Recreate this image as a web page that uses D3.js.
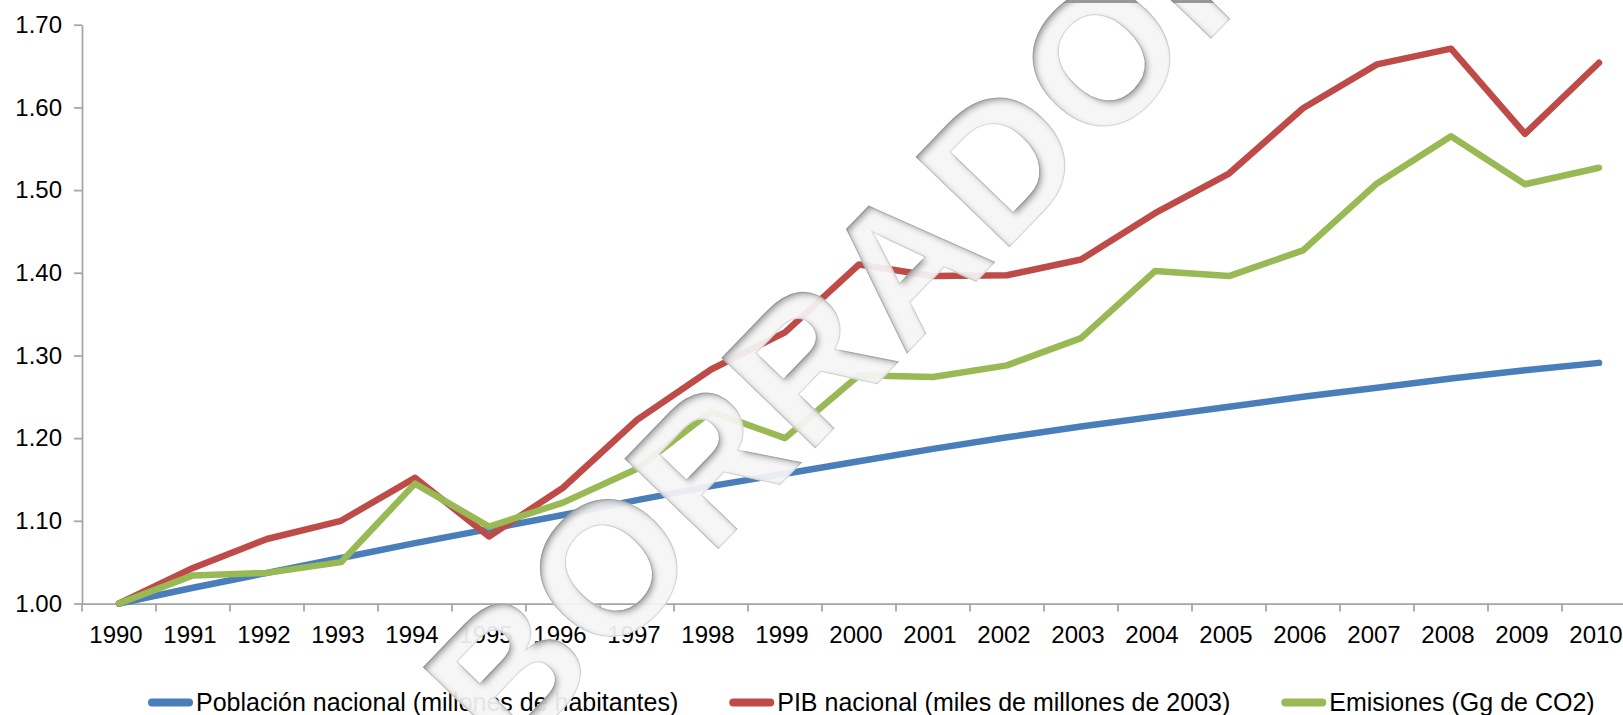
<!DOCTYPE html>
<html>
<head>
<meta charset="utf-8">
<script src="https://cdn.jsdelivr.net/npm/d3@7"></script>
<style>
  body { margin: 0; background: #fff; }
  svg { display: block; font-family: "Liberation Sans", Arial, sans-serif; }
</style>
</head>
<body>
<div id="chart"></div>
<script>
// data
var years = ["1990","1991","1992","1993","1994","1995","1996","1997","1998","1999","2000",
             "2001","2002","2003","2004","2005","2006","2007","2008","2009","2010"];
var poblacion = [1.000,1.019,1.037,1.055,1.073,1.090,1.107,1.125,1.142,1.157,1.172,
                 1.187,1.201,1.214,1.226,1.238,1.250,1.261,1.272,1.282,1.291];
var pib = [1.000,1.043,1.078,1.100,1.152,1.081,1.140,1.222,1.283,1.328,1.410,
           1.396,1.397,1.416,1.472,1.520,1.599,1.652,1.671,1.568,1.654];
var emisiones = [1.000,1.034,1.037,1.050,1.145,1.093,1.122,1.163,1.232,1.200,1.276,
                 1.274,1.288,1.321,1.402,1.396,1.427,1.508,1.565,1.507,1.527];
var yTicks = [1.0, 1.1, 1.2, 1.3, 1.4, 1.5, 1.6, 1.7];
var seriesNames = ["Población nacional (millones de habitantes)",
                   "PIB nacional (miles de millones de 2003)",
                   "Emisiones (Gg de CO2)"];
var seriesColors = ["#4a7ebb", "#be4b48", "#98b954"];

var width = 1623, height = 715;
var axisColor = "#a5a5a5";

var svg = d3.select("#chart").append("svg")
    .attr("width", width)
    .attr("height", height);

svg.append("rect").attr("width", width).attr("height", height).attr("fill", "#fff");

// the plot runs past the right edge of the picture
var x = d3.scaleBand().domain(years).range([82, 82 + years.length * 74]);
var y = d3.scaleLinear().domain([1, 1.7]).range([603.5, 24.7]);

// y axis
var yAxis = svg.append("g")
    .attr("transform", "translate(" + x.range()[0] + ",0)")
    .call(d3.axisLeft(y).tickValues(yTicks).tickFormat(d3.format(".2f"))
          .tickSizeInner(8).tickSizeOuter(0).tickPadding(12));
yAxis.select(".domain").attr("stroke", axisColor).attr("stroke-width", 1.75);
yAxis.selectAll(".tick line").attr("stroke", axisColor).attr("stroke-width", 1.75);
yAxis.selectAll(".tick text").attr("font-size", 24).attr("fill", "#000")
    .attr("font-family", "Liberation Sans, Arial, sans-serif");

// x axis: labels centred in bands, ticks on band edges
var xAxis = svg.append("g")
    .attr("transform", "translate(0," + y(1) + ")")
    .call(d3.axisBottom(x).tickSize(0).tickPadding(0));
xAxis.select(".domain").attr("stroke", axisColor).attr("stroke-width", 1.75);
xAxis.selectAll(".tick text")
    .attr("font-size", 24).attr("fill", "#000")
    .attr("font-family", "Liberation Sans, Arial, sans-serif")
    .attr("dy", null).attr("y", 39).attr("x", -3);

var edges = years.concat(["end"]);
xAxis.selectAll(".edge")
  .data(edges)
  .enter()
  .append("line")
    .attr("class", "edge")
    .attr("x1", function(d, i) { return x.range()[0] + i * x.bandwidth(); })
    .attr("x2", function(d, i) { return x.range()[0] + i * x.bandwidth(); })
    .attr("y1", 0)
    .attr("y2", 8)
    .attr("stroke", axisColor)
    .attr("stroke-width", 1.75);

// lines
var series = [poblacion, pib, emisiones];
var line = d3.line()
    .x(function(d, i) { return x(years[i]) + x.bandwidth() / 2; })
    .y(function(d) { return y(d); });

svg.append("g").selectAll("path")
  .data(series)
  .enter()
  .append("path")
    .attr("fill", "none")
    .attr("stroke", function(d, i) { return seriesColors[i]; })
    .attr("stroke-width", 6.5)
    .attr("stroke-linejoin", "round")
    .attr("stroke-linecap", "round")
    .attr("d", line);

// legend
var legend = svg.append("g");
var lx = 148, ly = 702.5;
seriesNames.forEach(function(name, i) {
  legend.append("line")
    .attr("x1", lx + 4).attr("x2", lx + 41)
    .attr("y1", ly).attr("y2", ly)
    .attr("stroke", seriesColors[i])
    .attr("stroke-width", 8)
    .attr("stroke-linecap", "round");
  var t = legend.append("text")
    .attr("x", lx + 48)
    .attr("y", 711)
    .attr("font-size", 25)
    .attr("fill", "#000")
    .text(name);
  lx = lx + 48 + t.node().getComputedTextLength() + 51;
});

// "BORRADOR" watermark, light letters with an inner shadow
var defs = svg.append("defs");
var f = defs.append("filter").attr("id", "inset")
    .attr("filterUnits", "userSpaceOnUse")
    .attr("x", 0).attr("y", 0).attr("width", width).attr("height", height);
f.append("feGaussianBlur").attr("in", "SourceAlpha").attr("stdDeviation", 3).attr("result", "blur");
f.append("feOffset").attr("in", "blur").attr("dx", 3).attr("dy", 3).attr("result", "off");
f.append("feComposite").attr("in", "SourceAlpha").attr("in2", "off")
    .attr("operator", "arithmetic").attr("k2", 1).attr("k3", -1).attr("result", "edge");
f.append("feFlood").attr("flood-color", "#6e6e6e").attr("flood-opacity", 0.85);
f.append("feComposite").attr("in2", "edge").attr("operator", "in").attr("result", "shade");
var fm = f.append("feMerge");
fm.append("feMergeNode").attr("in", "SourceGraphic");
fm.append("feMergeNode").attr("in", "shade");

svg.append("g")
    .attr("filter", "url(#inset)")
  .append("text")
    .attr("transform", "translate(508,766) rotate(-46)")
    .attr("font-size", 188)
    .attr("font-weight", "bold")
    .attr("letter-spacing", 4)
    .attr("fill", "#f5f5f5")
    .attr("fill-opacity", 0.93)
    .attr("stroke", "#e0e0e0")
    .attr("stroke-width", 1.2)
    .text("BORRADOR");
</script>
</body>
</html>
